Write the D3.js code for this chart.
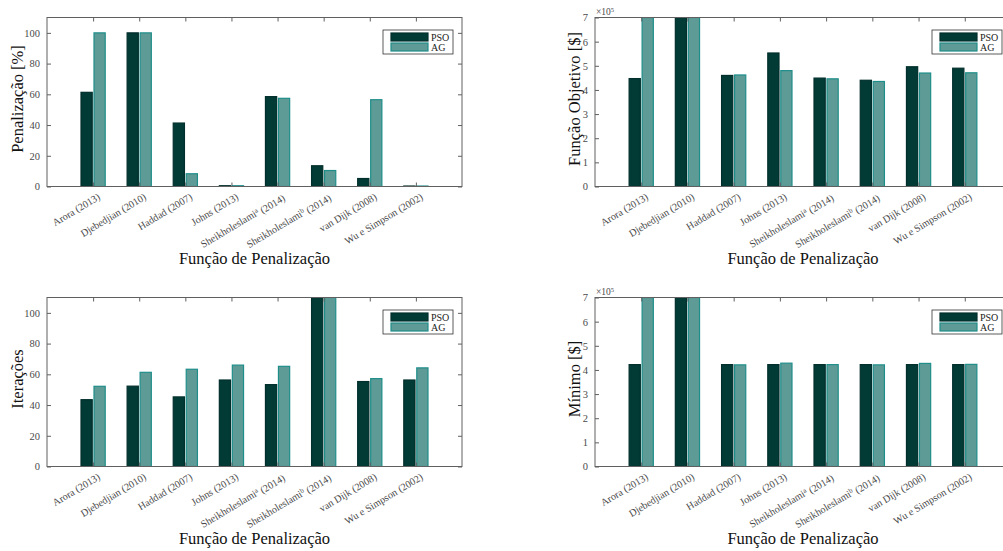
<!DOCTYPE html>
<html>
<head>
<meta charset="utf-8">
<script src="https://cdn.jsdelivr.net/npm/d3@7"></script>
<style>
  html, body { margin: 0; padding: 0; background: #fff; }
  svg, svg text { font-family: "Liberation Serif", Tinos, "Times New Roman", "DejaVu Serif", serif; }
</style>
</head>
<body>
<svg id="chart" width="1003" height="551"></svg>
<script>
// ---------- DATA ----------
const categories = ["Arora (2013)", "Djebedjian (2010)", "Haddad (2007)", "Johns (2013)",
  "Sheikholeslami^a (2014)", "Sheikholeslami^b (2014)", "van Dijk (2008)", "Wu e Simpson (2002)"];
const seriesNames = ["PSO", "AG"];

// Penalização [%]
const penalPSO = [61.3, 100, 41.3, 0.5, 58.5, 13.5, 5.2, 0.3];
const penalAG  = [100, 100, 8.3, 0.5, 57.4, 10.4, 56.5, 0.3];
// Função Objetivo [$] (bars reaching 7e5 are clipped at the axis top)
const objPSO = [447000, 700000, 460000, 553000, 449000, 440000, 496000, 490000];
const objAG  = [700000, 700000, 462000, 480000, 446000, 435000, 470000, 471000];
// Iterações (bars reaching 110 are clipped)
const iterPSO = [43.5, 52.3, 45.3, 56.3, 53.3, 110, 55.3, 56.3];
const iterAG  = [52.2, 61.3, 63.3, 66, 65.2, 110, 57.2, 64.2];
// Mínimo [$]
const minPSO = [422000, 700000, 422000, 422000, 422000, 422000, 422000, 422000];
const minAG  = [700000, 700000, 421000, 428000, 422000, 421000, 427000, 423000];

const ticks110 = [0, 20, 40, 60, 80, 100];
const ticks7e5 = [0, 100000, 200000, 300000, 400000, 500000, 600000, 700000];

const xLabel = "Função de Penalização";

// ---------- STYLE ----------
const FONT = '"Liberation Serif", Tinos, "Times New Roman", "DejaVu Serif", serif';
const colPSO = "#023a36", strokePSO = "#022f2c";
const colAG = "#5f9b96", strokeAG = "#1f8e8a";
const axisCol = "#606060", textCol = "#4a4a4a";

const svg = d3.select("#chart");

const panels = [
  { x0: 47, x1: 462, y0: 17.5, y1: 186.5, pso: penalPSO, ag: penalAG, ymax: 110, ticks: ticks110,
    fmt: d => d, ylabel: "Penalização [%]", ylx: 23, exp: false },
  { x0: 595, x1: 1011, y0: 17.5, y1: 186.5, pso: objPSO, ag: objAG, ymax: 700000, ticks: ticks7e5,
    fmt: d => d / 1e5, ylabel: "Função Objetivo [$]", ylx: 580, exp: true },
  { x0: 47, x1: 462, y0: 297.5, y1: 466.5, pso: iterPSO, ag: iterAG, ymax: 110, ticks: ticks110,
    fmt: d => d, ylabel: "Iterações", ylx: 23, exp: false },
  { x0: 595, x1: 1011, y0: 297.5, y1: 466.5, pso: minPSO, ag: minAG, ymax: 700000, ticks: ticks7e5,
    fmt: d => d / 1e5, ylabel: "Mínimo [$]", ylx: 580, exp: true }
];

panels.forEach((p, pi) => {
  const g = svg.append("g");
  const x = d3.scalePoint().domain(categories).range([p.x0, p.x1]).padding(1);
  const xs = d3.scaleBand().domain(seriesNames).range([-12.6, 12.6]).paddingInner(0.06);
  const y = d3.scaleLinear().domain([0, p.ymax]).range([p.y1, p.y0]);

  const clipId = "clip" + pi;
  g.append("clipPath").attr("id", clipId).append("rect")
    .attr("x", p.x0).attr("y", p.y0).attr("width", p.x1 - p.x0).attr("height", p.y1 - p.y0);

  const rows = categories.map((c, i) => ({ c, PSO: p.pso[i], AG: p.ag[i] }));
  const bars = g.append("g").attr("clip-path", `url(#${clipId})`);
  seriesNames.forEach(s => {
    bars.selectAll(null).data(rows).enter().append("rect")
      .attr("x", d => x(d.c) + xs(s) + 0.5)
      .attr("width", xs.bandwidth() - 1)
      .attr("y", d => y(d[s]))
      .attr("height", d => Math.max(0, y(0) - y(d[s])))
      .attr("fill", s === "PSO" ? colPSO : colAG)
      .attr("stroke", s === "PSO" ? strokePSO : strokeAG)
      .attr("stroke-width", 1.2);
  });

  // Axes (box style with inward ticks)
  const axL = g.append("g").attr("transform", `translate(${p.x0},0)`)
    .call(d3.axisLeft(y).tickValues(p.ticks).tickFormat(p.fmt).tickSize(-4).tickPadding(7));
  const axR = g.append("g").attr("transform", `translate(${p.x1},0)`)
    .call(d3.axisRight(y).tickValues(p.ticks).tickFormat("").tickSize(-4));
  const axB = g.append("g").attr("transform", `translate(0,${p.y1})`)
    .call(d3.axisBottom(x).tickSize(-4).tickFormat(""));
  const axT = g.append("g").attr("transform", `translate(0,${p.y0})`)
    .call(d3.axisTop(x).tickSize(-4).tickFormat(""));
  [axL, axR, axB, axT].forEach(a => {
    a.attr("font-family", FONT).attr("font-size", 10);
    a.select(".domain").remove();
    a.selectAll("line").attr("stroke", axisCol);
    a.selectAll("text").attr("fill", textCol).attr("font-size", 10.5).attr("font-family", FONT);
  });
  g.append("rect").attr("x", p.x0).attr("y", p.y0)
    .attr("width", p.x1 - p.x0).attr("height", p.y1 - p.y0)
    .attr("fill", "none").attr("stroke", axisCol).attr("stroke-width", 1);

  // Rotated category labels
  const lab = g.append("g");
  categories.forEach(c => {
    const t = lab.append("text")
      .attr("transform", `translate(${x(c) + 4},${p.y1 + 6}) rotate(-31)`)
      .attr("text-anchor", "end").attr("dy", "0.72em")
      .attr("fill", textCol).attr("font-size", 10.2).attr("font-family", FONT);
    const m = c.match(/^(.*)\^(\w)(.*)$/);
    if (m) {
      t.append("tspan").text(m[1]);
      t.append("tspan").attr("dy", "-0.4em").attr("font-size", 7).text(m[2]);
      t.append("tspan").attr("dy", "0.4em").text(m[3]);
    } else {
      t.text(c);
    }
  });

  // exponent label
  if (p.exp) {
    const e = g.append("text").attr("x", p.x0 + 1).attr("y", p.y0 - 3)
      .attr("fill", textCol).attr("font-size", 9.5).attr("font-family", FONT);
    e.append("tspan").text("×10");
    e.append("tspan").attr("dy", "-0.45em").attr("font-size", 6.5).text("5");
  }

  // axis titles
  g.append("text").attr("x", (p.x0 + p.x1) / 2).attr("y", p.y1 + 77)
    .attr("text-anchor", "middle").attr("fill", "#111").attr("font-size", 16.5)
    .attr("font-family", FONT).text(xLabel);
  g.append("text").attr("transform", `translate(${p.ylx},${(p.y0 + p.y1) / 2 - 3}) rotate(-90)`)
    .attr("text-anchor", "middle").attr("fill", "#111").attr("font-size", 16.5)
    .attr("font-family", FONT).text(p.ylabel);

  // legend
  const lx = p.x1 - 79, ly = p.y0 + 12.5;
  const lg = g.append("g").attr("transform", `translate(${lx},${ly})`);
  lg.append("rect").attr("width", 70).attr("height", 24).attr("fill", "#fff")
    .attr("stroke", "#333").attr("stroke-width", 0.8);
  seriesNames.forEach((s, i) => {
    lg.append("rect").attr("x", 8).attr("y", 3 + i * 10).attr("width", 37).attr("height", 8)
      .attr("fill", s === "PSO" ? colPSO : colAG)
      .attr("stroke", s === "PSO" ? strokePSO : strokeAG).attr("stroke-width", 1.2);
    lg.append("text").attr("x", 48).attr("y", 7 + i * 10).attr("dy", "0.35em")
      .attr("fill", "#222").attr("font-size", 10).attr("font-family", FONT).text(s);
  });
});
</script>
</body>
</html>
